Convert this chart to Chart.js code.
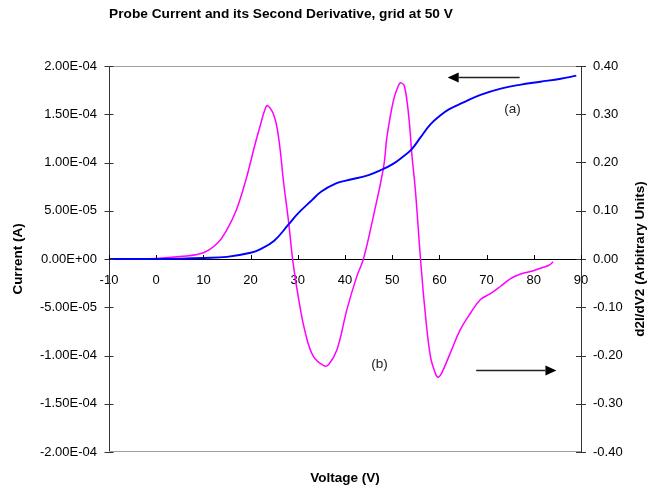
<!DOCTYPE html>
<html>
<head>
<meta charset="utf-8">
<title>Probe Current and its Second Derivative</title>
<script src="https://cdn.jsdelivr.net/npm/chart.js@4.4.1/dist/chart.umd.min.js"></script>
<style>
html,body{margin:0;padding:0;background:#fff;}
#wrap{position:relative;width:647px;height:492px;}
canvas{display:block;}
</style>
</head>
<body>
<div id="wrap"><canvas id="chart" width="647" height="492"></canvas></div>
<script>
// ---- texts ----
const chartTitle = 'Probe Current and its Second Derivative, grid at 50 V';
const xAxisTitle = 'Voltage (V)';
const leftAxisTitle = 'Current (A)';
const rightAxisTitle = 'd2I/dV2 (Arbitrary Units)';

// ---- curve (a): probe current (left axis, A) ----
const voltageA = [-10, -5, 0, 5, 10, 15, 20, 22, 25, 28, 30, 33, 35, 38, 40, 45, 48, 50, 52, 54, 56, 58, 60, 62, 65, 68.7, 73, 77, 81.4, 85.7, 89];
const currentA = [0, 0, 0, 0.3e-6, 1.0e-6, 2.2e-6, 6.5e-6, 1.0e-5, 1.9e-5, 3.55e-5, 4.7e-5, 6.1e-5, 7.0e-5, 7.8e-5, 8.1e-5, 8.7e-5, 9.3e-5, 9.8e-5, 1.05e-4, 1.13e-4, 1.26e-4, 1.39e-4, 1.48e-4, 1.55e-4, 1.62e-4, 1.70e-4, 1.765e-4, 1.805e-4, 1.837e-4, 1.868e-4, 1.90e-4];

// ---- curve (b): second derivative (right axis, arbitrary units) ----
const voltageB = [-5, 0, 5, 10, 13, 15, 17, 19, 21, 22, 23, 23.6, 25, 26, 27, 28, 29, 30.2, 31.6, 33.3, 35.5, 36.5, 38.3, 40.4, 42.5, 43.9, 46, 48.2, 48.9, 50.3, 51.4, 51.9, 52.6, 53.5, 54.2, 54.9, 56, 57, 58.1, 59.1, 59.7, 60.5, 62.3, 64.4, 66.6, 68.7, 70.8, 72.9, 75, 77.2, 79.3, 81.4, 83.2, 84.1];
const derivB = [0, 0.001, 0.005, 0.013, 0.033, 0.061, 0.102, 0.164, 0.240, 0.275, 0.309, 0.318, 0.296, 0.247, 0.158, 0.081, -0.008, -0.084, -0.153, -0.202, -0.221, -0.219, -0.188, -0.105, -0.036, 0.0, 0.088, 0.192, 0.254, 0.330, 0.361, 0.365, 0.358, 0.296, 0.213, 0.144, 0.0, -0.112, -0.202, -0.236, -0.245, -0.236, -0.195, -0.147, -0.112, -0.084, -0.072, -0.057, -0.041, -0.031, -0.026, -0.019, -0.013, -0.006];

// ---- ticks ----
const xTicks = [-10, 0, 10, 20, 30, 40, 50, 60, 70, 80, 90];
const leftTicks = [-2.0e-4, -1.5e-4, -1.0e-4, -5.0e-5, 0, 5.0e-5, 1.0e-4, 1.5e-4, 2.0e-4];
const rightTicks = [-0.4, -0.3, -0.2, -0.1, 0, 0.1, 0.2, 0.3, 0.4];

// ---- annotations (data units) ----
const noteA = {text: '(a)', x: 75.5, y: 1.547e-4, axis: 'y'};
const noteB = {text: '(b)', x: 47.3, y: -0.219, axis: 'y1'};
const arrowA = {from: 77.0, to: 61.75, y: 1.889e-4, axis: 'y'};
const arrowB = {from: 67.8, to: 84.8, y: -0.230, axis: 'y1'};

const FONT = "'Liberation Sans', Arial, Helvetica, sans-serif";
Chart.defaults.font.family = FONT;
Chart.defaults.font.size = 13;
Chart.defaults.color = '#000';

function sci(v) {
  if (Math.abs(v) < 1e-12) return '0.00E+00';
  const parts = v.toExponential(2).split('e');
  const sign = parts[1][0] === '-' ? '-' : '+';
  const e = parts[1].replace(/[+-]/, '').padStart(2, '0');
  return parts[0] + 'E' + sign + e;
}
function fix2(v) { return Math.abs(v) < 1e-9 ? '0.00' : v.toFixed(2); }

function seg(ctx, x1, y1, x2, y2) { ctx.beginPath(); ctx.moveTo(x1, y1); ctx.lineTo(x2, y2); ctx.stroke(); }
function drawArrow(ctx, x1, y, x2) {
  const dir = Math.sign(x2 - x1), hl = 11, hw = 5;
  ctx.strokeStyle = '#222'; ctx.lineWidth = 1.3;
  seg(ctx, x1, y, x2 - dir * hl, y);
  ctx.fillStyle = '#000';
  ctx.beginPath(); ctx.moveTo(x2, y); ctx.lineTo(x2 - dir * hl, y - hw); ctx.lineTo(x2 - dir * hl, y + hw); ctx.closePath(); ctx.fill();
}

const decor = {
  id: 'decor',
  afterDraw(chart) {
    const {ctx, chartArea: a, scales} = chart;
    const xs = scales.x, yl = scales.y, yr = scales.y1;
    ctx.save();
    // plot-area top & bottom border
    ctx.strokeStyle = '#a0a0a0'; ctx.lineWidth = 1;
    seg(ctx, a.left, Math.round(a.top) + 0.5, a.right, Math.round(a.top) + 0.5);
    seg(ctx, a.left, Math.round(a.bottom) - 0.5, a.right, Math.round(a.bottom) - 0.5);
    // tick marks
    ctx.strokeStyle = '#333';
    for (const v of leftTicks) { const p = Math.round(yl.getPixelForValue(v)) + 0.5; seg(ctx, a.left - 4.5, p, a.left + 4.5, p); }
    for (const v of rightTicks) { const p = Math.round(yr.getPixelForValue(v)) + 0.5; seg(ctx, a.right - 5, p, a.right + 5, p); }
    const z = Math.round(yl.getPixelForValue(0)) + 0.5;
    ctx.strokeStyle = '#000';
    for (const v of xTicks) { const p = Math.round(xs.getPixelForValue(v)) + 0.5; seg(ctx, p, z - 4.5, p, z); }
    // arrows
    drawArrow(ctx, xs.getPixelForValue(arrowA.from), Math.round(scales[arrowA.axis].getPixelForValue(arrowA.y)) + 0.5, xs.getPixelForValue(arrowA.to));
    drawArrow(ctx, xs.getPixelForValue(arrowB.from), Math.round(scales[arrowB.axis].getPixelForValue(arrowB.y)) + 0.5, xs.getPixelForValue(arrowB.to));
    // curve labels
    ctx.fillStyle = '#222'; ctx.font = '13.5px ' + FONT; ctx.textAlign = 'center'; ctx.textBaseline = 'middle';
    for (const n of [noteA, noteB]) ctx.fillText(n.text, xs.getPixelForValue(n.x), scales[n.axis].getPixelForValue(n.y));
    // titles
    ctx.fillStyle = '#000'; ctx.textBaseline = 'alphabetic';
    ctx.font = 'bold 13.7px ' + FONT;
    ctx.fillText(chartTitle, 281, 18);
    ctx.font = 'bold 13.5px ' + FONT;
    ctx.fillText(xAxisTitle, (a.left + a.right) / 2, 482);
    const cy = (a.top + a.bottom) / 2;
    ctx.save(); ctx.translate(22, cy); ctx.rotate(-Math.PI / 2); ctx.fillText(leftAxisTitle, 0, 0); ctx.restore();
    ctx.save(); ctx.translate(644, cy); ctx.rotate(-Math.PI / 2); ctx.fillText(rightAxisTitle, 0, 0); ctx.restore();
    ctx.restore();
  }
};

new Chart(document.getElementById('chart'), {
  type: 'line',
  data: {
    datasets: [
      {
        label: 'Current (A)',
        data: voltageA.map((v, i) => ({x: v, y: currentA[i]})),
        yAxisID: 'y',
        borderColor: '#0000ff',
        borderWidth: 1.9,
        pointRadius: 0,
        tension: 0.4,
        fill: false
      },
      {
        label: 'd2I/dV2',
        data: voltageB.map((v, i) => ({x: v, y: derivB[i]})),
        yAxisID: 'y1',
        borderColor: '#ff00ff',
        borderWidth: 1.5,
        pointRadius: 0,
        tension: 0.4,
        fill: false
      }
    ]
  },
  options: {
    responsive: false,
    animation: false,
    devicePixelRatio: 1,
    layout: {padding: {top: 66, bottom: 40, left: 0, right: 0}},
    plugins: {legend: {display: false}, tooltip: {enabled: false}, title: {display: false}},
    scales: {
      x: {
        type: 'linear', min: -10, max: 90,
        position: {y: 0},
        afterBuildTicks: s => { s.ticks = xTicks.map(v => ({value: v})); },
        grid: {drawOnChartArea: false, drawTicks: false},
        border: {display: true, color: '#000', width: 1},
        ticks: {padding: 14, maxRotation: 0, autoSkip: false, font: {size: 13}, callback: v => String(v)}
      },
      y: {
        type: 'linear', position: 'left', min: -2e-4, max: 2e-4,
        afterBuildTicks: s => { s.ticks = leftTicks.map(v => ({value: v})); },
        afterFit: s => { s.width = 109; },
        grid: {drawOnChartArea: false, drawTicks: false},
        border: {display: true, color: '#333', width: 1},
        ticks: {padding: 12, font: {size: 13}, callback: v => sci(v)}
      },
      y1: {
        type: 'linear', position: 'right', min: -0.4, max: 0.4,
        afterBuildTicks: s => { s.ticks = rightTicks.map(v => ({value: v})); },
        afterFit: s => { s.width = 66; },
        grid: {drawOnChartArea: false, drawTicks: false},
        border: {display: true, color: '#333', width: 1},
        ticks: {padding: 12, font: {size: 13}, callback: v => fix2(v)}
      }
    }
  },
  plugins: [decor]
});
</script>
</body>
</html>
